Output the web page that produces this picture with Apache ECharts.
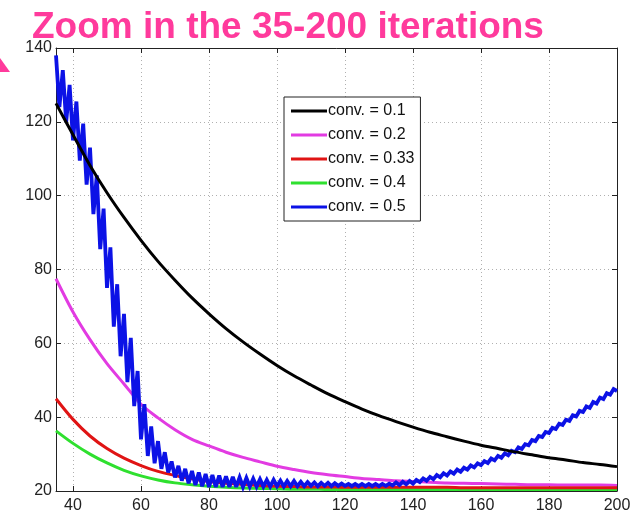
<!DOCTYPE html>
<html>
<head>
<meta charset="utf-8">
<script src="https://cdn.jsdelivr.net/npm/echarts@6/dist/echarts.min.js"></script>
<style>
  html, body { margin: 0; padding: 0; background: #fff; }
  #chart { width: 637px; height: 516px; }
</style>
</head>
<body>
<div id="chart"></div>
<script>
// Iterations sampled every 5 steps for the smooth curves
const coarseIters = [35, 40, 45, 50, 55, 60, 65, 70, 75, 80, 85, 90, 95, 100, 105, 110, 115, 120,
  125, 130, 135, 140, 145, 150, 155, 160, 165, 170, 175, 180, 185, 190, 195, 200];

const conv01 = [125, 116.5, 108.2, 100.8, 94.1, 87.9, 82.2, 77.1, 72.3, 68.0, 64.0, 60.4, 57.1, 54.0,
  51.2, 48.7, 46.3, 44.2, 42.2, 40.4, 38.8, 37.3, 35.9, 34.7, 33.5, 32.4, 31.5, 30.6, 29.8, 29.0,
  28.4, 27.7, 27.2, 26.6];

const conv02 = [77.5, 68.5, 61.0, 54.5, 49.0, 43.5, 39.8, 36.6, 34.0, 32.2, 30.5, 29.1, 27.9, 26.7,
  25.8, 25.0, 24.4, 23.9, 23.4, 23.1, 22.8, 22.6, 22.4, 22.2, 22.1, 22.0, 21.9, 21.8, 21.7, 21.7,
  21.6, 21.6, 21.6, 21.5];

const conv033 = [45.0, 39.4, 34.9, 31.5, 28.9, 26.9, 25.3, 24.2, 23.3, 22.6, 22.1, 21.8, 21.5, 21.3,
  21.2, 21.1, 21.1, 21.0, 21.0, 21.0, 21.0, 21.0, 21.0, 21.0, 20.9, 20.9, 20.9, 20.9, 20.9, 20.9,
  20.9, 20.9, 20.9, 20.9];

const conv04 = [36.3, 32.9, 30.0, 27.6, 25.6, 24.1, 23.0, 22.2, 21.7, 21.3, 21.0, 20.8, 20.7, 20.6,
  20.5, 20.5, 20.4, 20.4, 20.4, 20.4, 20.4, 20.4, 20.4, 20.4, 20.4, 20.4, 20.4, 20.4, 20.4, 20.4,
  20.4, 20.4, 20.4, 20.4];

// conv. = 0.5 is recorded at every iteration, starting at iteration 35
const conv05Start = 35;
const conv05 = [
  138, 124, 134, 120, 130, 115, 125.5, 109.5, 119.5, 103,
  113, 95, 105.5, 85.5, 96.5, 75, 86, 64.5, 76, 56.5,
  68, 49.5, 61.5, 43, 52.5, 34, 43.5, 29.5, 37.5, 27.5,
  33.5, 26, 30.5, 25, 28, 23.7, 26.8, 22.8, 26, 22.1,
  25.4, 21.6, 25, 21.3, 24.6, 21.1, 24.3, 21.1, 24.2, 21.1,
  24, 21.1, 23.8, 21.1, 23.7, 21.1, 23.5, 21.2, 23.3, 21.2,
  23.2, 21.2, 23, 21.2, 23, 21.3, 22.8, 21.2, 22.7, 21.3,
  22.7, 21.3, 22.5, 21.3, 22.4, 21.4, 22.3, 21.3, 22.2, 21.4,
  22.2, 21.3, 22.1, 21.4, 22.0, 21.4, 21.9, 21.3, 21.9, 21.3,
  21.9, 21.3, 21.9, 21.3, 21.9, 21.3, 21.9, 21.4, 22.0, 21.5,
  22.3, 21.6, 22.5, 21.8, 22.7, 22.0, 23.0, 22.4, 23.4, 22.8,
  23.8, 23.2, 24.3, 23.7, 24.8, 24.2, 25.3, 24.7, 25.8, 25.2,
  26.3, 25.8, 26.9, 26.4, 27.5, 27.0, 28.1, 27.6, 28.8, 28.3,
  29.5, 29.0, 30.2, 29.7, 30.9, 30.5, 31.8, 31.4, 32.7, 32.4,
  33.8, 33.5, 34.9, 34.6, 36.0, 35.7, 37.1, 36.8, 38.2, 37.9,
  39.3, 39.0, 40.5, 40.2, 41.7, 41.4, 42.9, 42.5, 44.1, 43.7,
  45.3, 44.9, 46.5, 46.1, 47.6, 47.1
];

const seriesNames = ['conv. = 0.1', 'conv. = 0.2', 'conv. = 0.33', 'conv. = 0.4', 'conv. = 0.5'];
const seriesColors = ['#000000', '#e23be2', '#e01414', '#2fe02f', '#0c12e6'];
const titleText = 'Zoom in the 35-200 iterations';
const pink = '#ff3a9c';

const pairs = (xs, ys) => ys.map((y, i) => [xs[i], y]);
const conv05Pairs = conv05.map((y, i) => [conv05Start + i, y]);

const chart = echarts.init(document.getElementById('chart'), null, { renderer: 'canvas' });

const axisFont = { fontFamily: 'Arial, "Liberation Sans", sans-serif', fontSize: 16, color: '#222' };
const gridLine = { show: true, lineStyle: { color: '#b0b0b0', type: [1, 3], width: 1 } };
const frameLine = { show: true, onZero: false, lineStyle: { color: '#222', width: 1 } };
const inTick = { show: true, inside: true, length: 5, lineStyle: { color: '#222', width: 1 } };

function lineSeries(idx, data, z, width) {
  return {
    name: seriesNames[idx],
    type: 'line',
    data: data,
    xAxisIndex: 0,
    yAxisIndex: 0,
    showSymbol: false,
    symbol: 'none',
    smooth: width ? false : 0.3,
    z: z,
    lineStyle: { color: seriesColors[idx], width: width || 3, join: 'miter', miterLimit: 3 },
    itemStyle: { color: seriesColors[idx] },
    emphasis: { disabled: true },
    animation: false
  };
}

chart.setOption({
  animation: false,
  backgroundColor: '#fff',
  graphic: [
    {
      type: 'text',
      x: 32,
      y: 9,
      style: {
        text: titleText,
        fill: pink,
        font: 'bold 37px Arial, "Liberation Sans", sans-serif',
        textVerticalAlign: 'top'
      }
    },
    {
      type: 'polygon',
      shape: { points: [[0, 58], [10, 72], [0, 72]] },
      style: { fill: pink }
    }
  ],
  grid: { left: 56, right: 20, top: 48, bottom: 25, containLabel: false },
  legend: {
    data: seriesNames,
    orient: 'vertical',
    left: 284,
    top: 97,
    itemWidth: 36,
    itemHeight: 14,
    itemGap: 8,
    padding: [6, 6, 6, 7],
    backgroundColor: '#fff',
    borderColor: '#222',
    borderWidth: 1,
    icon: 'path://M0,6 L36,6 L36,9 L0,9 Z',
    textStyle: { fontFamily: 'Arial, "Liberation Sans", sans-serif', fontSize: 16, color: '#111', padding: [0, 0, 0, -4] },
    selectedMode: false
  },
  xAxis: [
    {
      type: 'value', min: 35, max: 200, splitNumber: 8, position: 'bottom',
      axisLine: frameLine, axisTick: inTick, splitLine: gridLine,
      axisLabel: Object.assign({ margin: 7, showMinLabel: false }, axisFont)
    },
    {
      type: 'value', min: 35, max: 200, splitNumber: 8, position: 'top',
      axisLine: frameLine, axisTick: inTick, splitLine: { show: false },
      axisLabel: { show: false }
    }
  ],
  yAxis: [
    {
      type: 'value', min: 20, max: 140, interval: 20, position: 'left',
      axisLine: frameLine, axisTick: inTick, splitLine: gridLine,
      axisLabel: Object.assign({ margin: 4 }, axisFont)
    },
    {
      type: 'value', min: 20, max: 140, interval: 20, position: 'right',
      axisLine: frameLine, axisTick: inTick, splitLine: { show: false },
      axisLabel: { show: false }
    }
  ],
  series: [
    lineSeries(0, pairs(coarseIters, conv01), 6),
    lineSeries(1, pairs(coarseIters, conv02), 3),
    lineSeries(2, pairs(coarseIters, conv033), 4),
    lineSeries(3, pairs(coarseIters, conv04), 2),
    lineSeries(4, conv05Pairs, 5, 3.8)
  ]
});
</script>
</body>
</html>
